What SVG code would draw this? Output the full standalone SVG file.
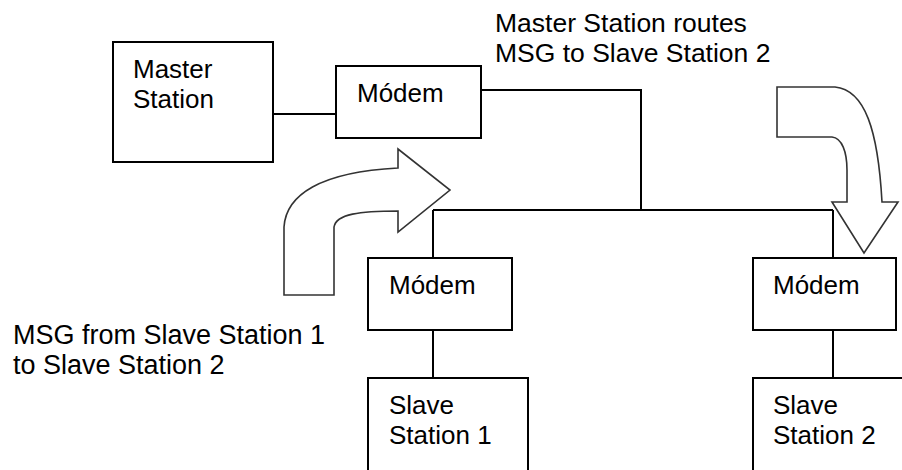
<svg xmlns="http://www.w3.org/2000/svg" width="902" height="470" viewBox="0 0 902 470">
<style>
.box{fill:#fff;stroke:#000;stroke-width:2}
.ln{fill:none;stroke:#000;stroke-width:2}
.arr{fill:#fff;stroke:#333;stroke-width:1.6;stroke-linejoin:miter}
text{font-family:"Liberation Sans",Arial,sans-serif;font-size:26px;fill:#000}
.lbl{font-size:26.5px}
.lbl2{font-size:27px}
</style>
<rect width="902" height="470" fill="#fff"/>
<g id="connectors">
<path class="ln" d="M273,114 L336,114"/>
<path class="ln" d="M481,90 L641,90 L641,210"/>
<path class="ln" d="M433,210 L833,210"/>
<path class="ln" d="M433,210 L433,258"/>
<path class="ln" d="M833,210 L833,258"/>
<path class="ln" d="M433,330 L433,378"/>
<path class="ln" d="M833,330 L833,378"/>
</g>
<g id="master-station">
<rect class="box" x="113" y="42" width="160" height="120"/>
<text x="133" y="78">Master</text>
<text x="133" y="108">Station</text>
</g>
<g id="master-modem">
<rect class="box" x="336" y="66" width="145" height="72"/>
<text x="357" y="102">Módem</text>
</g>
<g id="modem-1">
<rect class="box" x="368" y="258" width="144" height="72"/>
<text x="389" y="294">Módem</text>
</g>
<g id="modem-2">
<rect class="box" x="753" y="258" width="143" height="72"/>
<text x="773" y="294">Módem</text>
</g>
<g id="slave-1">
<rect class="box" x="368" y="378" width="160" height="120"/>
<text x="389" y="414">Slave</text>
<text x="389" y="444">Station 1</text>
</g>
<g id="slave-2">
<rect class="box" x="753" y="378" width="160" height="120"/>
<text x="773" y="414">Slave</text>
<text x="773" y="444">Station 2</text>
</g>
<g id="arrow-up">
<path class="arr" d="M284,295 L284,227 C286,195 320,172 398,168 L398,149 L450,190 L398,232 L398,211 C360,211 336,214 334,227 L334,295 Z"/>
</g>
<g id="arrow-down">
<path class="arr" d="M777,87 L835,87 C865,90 878,130 882,202 L898,202 L864,253 L832,202 L847,202 L847,170 C847,152 842,138 832,137 L777,137 Z"/>
</g>
<g id="labels">
<text class="lbl" x="495" y="32">Master Station routes</text>
<text class="lbl" x="495" y="62">MSG to Slave Station 2</text>
<text class="lbl2" x="13" y="344">MSG from Slave Station 1</text>
<text class="lbl2" x="13" y="374">to Slave Station 2</text>
</g>
</svg>
